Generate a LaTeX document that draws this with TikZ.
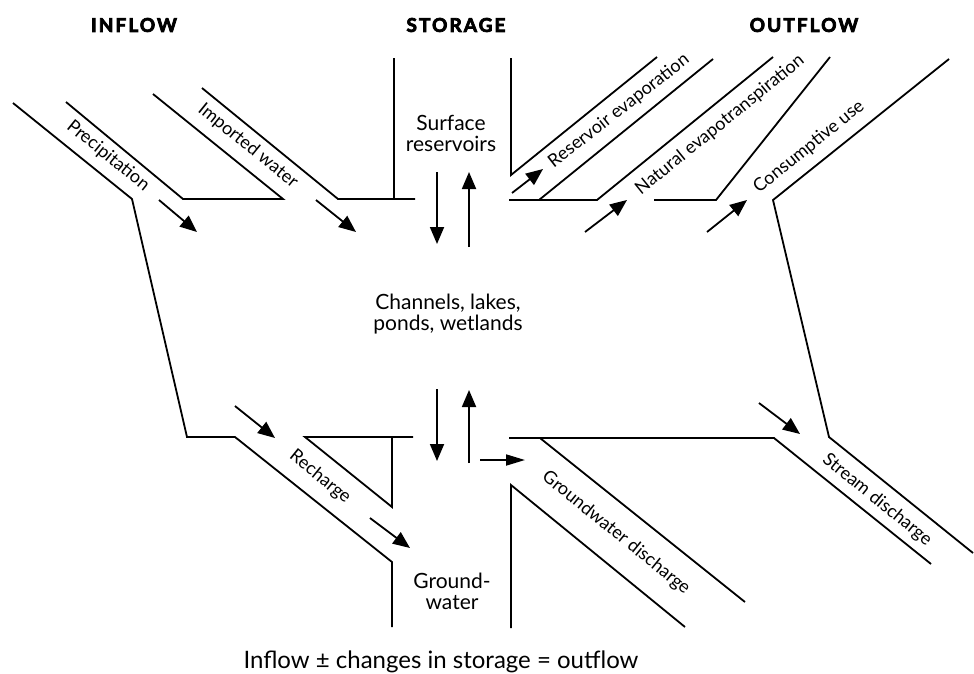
\documentclass[tikz,border=0pt]{standalone}
\usepackage{fontspec}
\setmainfont{Lato}
\newfontfamily\titlefont{Lato}[LetterSpace=11,BoldFeatures={FakeBold=4}]
\usetikzlibrary{arrows.meta}

\tikzset{
  wall/.style={line width=1.8pt, line join=miter},
  flow/.style={line width=1.8pt, -{Triangle[length=17pt,width=14pt]}},
  heading/.style={font=\titlefont\bfseries\fontsize{19}{22}\selectfont},
  store/.style={align=center, font=\fontsize{21}{21}\selectfont},
  chan/.style={font=\fontsize{18}{20}\selectfont, inner sep=0pt},
}

\begin{document}
\begin{tikzpicture}[x=1pt,y=-1pt]
\useasboundingbox (0,0) rectangle (974,673);

% headings
\node[heading] (hin)  at (134,25) {INFLOW};
\node[heading] (hst)  at (456,25) {STORAGE};
\node[heading] (hout) at (804,25) {OUTFLOW};

% storage compartments
\node[store] (surf) at (451,133) {Surface\\reservoirs};
\node[store] (chn)  at (448,314) {Channels, lakes,\\ponds, wetlands};
\node[store] (gw)   at (452,591) {Ground-\\water};

% channel walls, inflow side
\draw[wall] (13,103) -- (132,199) -- (187,437) -- (235,437) -- (392,562) -- (392,627);
\draw[wall] (66,102) -- (183,199) -- (283,199) -- (153,94);
\draw[wall] (202,88) -- (338,199) -- (415,199);
\draw[wall] (394,58) -- (394,199);
\draw[wall] (413,437) -- (305,437) -- (392,507) -- (392,437);

% channel walls, outflow side
\draw[wall] (511,58) -- (511,175) -- (657,57);
\draw[wall] (509,200) -- (597,200) -- (773,57);
\draw[wall] (539,200) -- (713,59);
\draw[wall] (654,200) -- (716,200) -- (830,57);
\draw[wall] (949,59) -- (773,200) -- (829,437) -- (973,553);
\draw[wall] (509,438) -- (774,438) -- (931,564);
\draw[wall] (540,438) -- (745,602);
\draw[wall] (511,628) -- (511,485) -- (685,627);

% flow arrows
\coordinate (p0) at (159,200);  \coordinate (p1) at (197,232);
\coordinate (i0) at (316,200);  \coordinate (i1) at (356,232);
\coordinate (sd0) at (437,172); \coordinate (sd1) at (437,244);
\coordinate (su0) at (469,247); \coordinate (su1) at (469,172);
\coordinate (re0) at (512,193); \coordinate (re1) at (543,169);
\coordinate (ne0) at (585,232); \coordinate (ne1) at (627,200);
\coordinate (cu0) at (707,232); \coordinate (cu1) at (747,200);
\coordinate (r0) at (235,406);  \coordinate (r1) at (275,438);
\coordinate (r2) at (370,518);  \coordinate (r3) at (410,548);
\coordinate (gd0) at (437,389); \coordinate (gd1) at (437,461);
\coordinate (gu0) at (469,463); \coordinate (gu1) at (469,390);
\coordinate (gx0) at (480,460); \coordinate (gx1) at (525,460);
\coordinate (st0) at (759,403); \coordinate (st1) at (800,434);

\draw[flow] (p0) -- (p1);
\draw[flow] (i0) -- (i1);
\draw[flow] (sd0) -- (sd1);
\draw[flow] (su0) -- (su1);
\draw[flow] (re0) -- (re1);
\draw[flow] (ne0) -- (ne1);
\draw[flow] (cu0) -- (cu1);
\draw[flow] (r0) -- (r1);
\draw[flow] (r2) -- (r3);
\draw[flow] (gd0) -- (gd1);
\draw[flow] (gu0) -- (gu1);
\draw[line width=1.8pt, -{Triangle[length=19pt,width=11pt]}] (gx0) -- (gx1);
\draw[flow] (st0) -- (st1);

% channel labels
\node[chan, rotate=-39] (lp)  at (108,156) {Precipitation};
\node[chan, rotate=-39] (li)  at (248,146) {Imported water};
\node[chan, rotate=38]  (lre) at (619,111) {Reservoir evaporation};
\node[chan, rotate=39]  (lne) at (720,125) {Natural evapotranspiration};
\node[chan, rotate=39]  (lcu) at (809,147) {Consumptive use};
\node[chan, rotate=-39] (lr)  at (320,477) {Recharge};
\node[chan, rotate=-39] (lgd) at (616,533) {Groundwater discharge};
\node[chan, rotate=-39] (lsd) at (877,500) {Stream discharge};

% balance equation
\node[font=\fontsize{24}{28}\selectfont] (eq) at (441,662) {Inflow ± changes in storage = outflow};
\end{tikzpicture}
\end{document}
